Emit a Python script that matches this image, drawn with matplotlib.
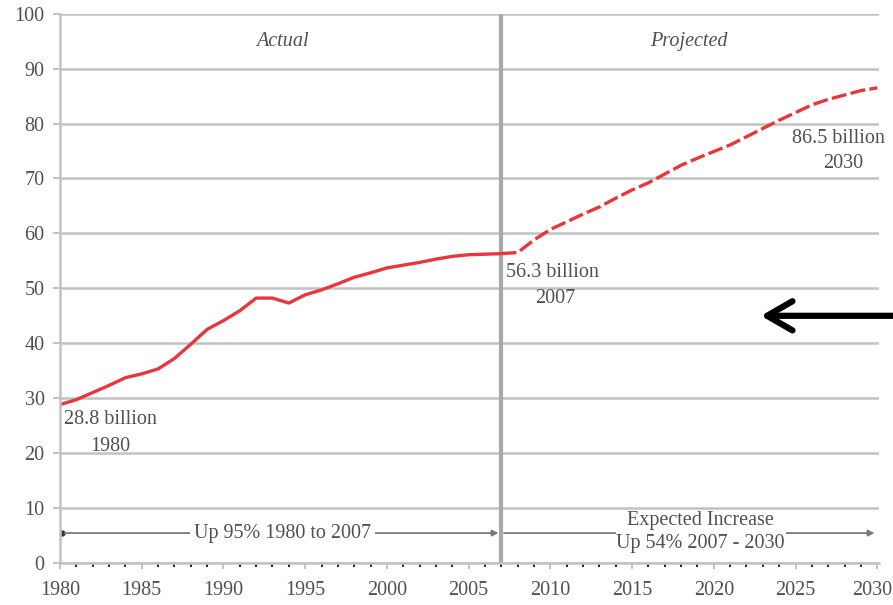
import numpy as np
import matplotlib.pyplot as plt
import matplotlib.transforms as mtransforms
from matplotlib.patches import FancyArrowPatch
from matplotlib.ticker import MultipleLocator

# Annual values, billions
actual_years = list(range(1980, 2008))
actual_vals = [28.8, 29.7, 31.0, 32.3, 33.7, 34.4, 35.3, 37.2, 39.8, 42.5,
               44.1, 45.9, 48.2, 48.2, 47.3, 48.8, 49.7, 50.8, 52.0, 52.8,
               53.7, 54.2, 54.7, 55.3, 55.8, 56.1, 56.2, 56.3]

proj_years = list(range(2007, 2031))
proj_vals = [56.3, 56.5, 58.8, 60.7, 62.1, 63.5, 64.8, 66.4, 67.9, 69.2,
             70.8, 72.4, 73.7, 74.9, 76.1, 77.6, 79.1, 80.6, 82.0, 83.4,
             84.4, 85.2, 86.0, 86.5]

x_ticks = [1980, 1985, 1990, 1995, 2000, 2005, 2010, 2015, 2020, 2025, 2030]
y_ticks = list(range(0, 101, 10))

txt = '#505050'
grid = '#c2c2c2'
red = '#e8363c'
fs = 14.5
plt.rcParams['font.family'] = ['Liberation Serif', 'DejaVu Serif']

fig = plt.figure(figsize=(8.93, 6.05), dpi=100)
ax = fig.add_axes([0.0672, 0.0699, 0.917, 0.9074])

ax.plot(actual_years, actual_vals, color=red, lw=2.4, solid_capstyle='round')
ax.plot(proj_years, proj_vals, color=red, lw=2.4, ls=(0, (4.5, 1.3)))

ax.set_xlim(1980, 2030.1)
ax.set_ylim(0, 100)
ax.set_xticks(x_ticks)
ax.set_yticks(y_ticks)
ax.xaxis.set_minor_locator(MultipleLocator(1))
ax.yaxis.grid(True, color=grid, lw=1.8)
ax.set_axisbelow(True)
for s in ['top', 'right']:
    ax.spines[s].set_visible(False)
for s in ['left', 'bottom']:
    ax.spines[s].set_color(grid)
    ax.spines[s].set_linewidth(1.8)
ax.tick_params(axis='both', colors=grid, labelcolor=txt, labelsize=fs, width=1.4)
ax.tick_params(axis='y', length=5, pad=6)
ax.tick_params(axis='x', which='major', length=4, pad=9)
ax.tick_params(axis='x', which='minor', length=3, width=1.2)

# keep the last year label inside the canvas
last = ax.get_xticklabels()[-1]
last.set_transform(last.get_transform() + mtransforms.ScaledTranslation(-4 / 72, 0, fig.dpi_scale_trans))

# divider between history and projection
ax.axvline(2007, color='#a8a8a8', lw=3, zorder=1)

ax.text(1993.6, 95, 'Actual', style='italic', color=txt, fontsize=fs, ha='center', va='center')
ax.text(2018.5, 95, 'Projected', style='italic', color=txt, fontsize=fs, ha='center', va='center')

lab = dict(color=txt, fontsize=fs, ha='center', va='center')
ax.text(1983.1, 26.0, f'{actual_vals[0]} billion', **lab)
ax.text(1983.1, 21.2, str(actual_years[0]), **lab)
ax.text(2010.1, 52.8, f'{actual_vals[-1]} billion', **lab)
ax.text(2010.3, 48.1, str(actual_years[-1]), **lab)
ax.text(2027.6, 77.3, f'{proj_vals[-1]} billion', **lab)
ax.text(2027.9, 72.7, str(proj_years[-1]), **lab)

# growth spans along the bottom
arrow = dict(arrowstyle='-|>', color='#7a7a7a', lw=1.3, mutation_scale=9)
ax.annotate('', xy=(2007, 5.4), xytext=(1980.1, 5.4), arrowprops=arrow)
ax.annotate('', xy=(2030, 5.4), xytext=(2007, 5.4), arrowprops=arrow)
ax.plot([1980.1], [5.4], 'o', color='#333', ms=3.5)
ax.text(1993.6, 5.4, 'Up 95% 1980 to 2007', color=txt, fontsize=fs, ha='center', va='center',
        bbox=dict(facecolor='white', edgecolor='none', pad=3))
ax.text(2019.2, 5.6, 'Expected Increase\nUp 54% 2007 - 2030', color=txt, fontsize=fs,
        ha='center', va='center', linespacing=1.25,
        bbox=dict(facecolor='white', edgecolor='none', pad=0.5))

# pointer arrow coming in from the right edge
fig.patches.append(FancyArrowPatch(
    (1.01, 0.478), (0.849, 0.478), transform=fig.transFigure,
    arrowstyle='->,head_length=1.3,head_width=0.75', color='black', lw=4.5,
    capstyle='round', joinstyle='round', mutation_scale=14))

fig.savefig('out.png', dpi=100)
